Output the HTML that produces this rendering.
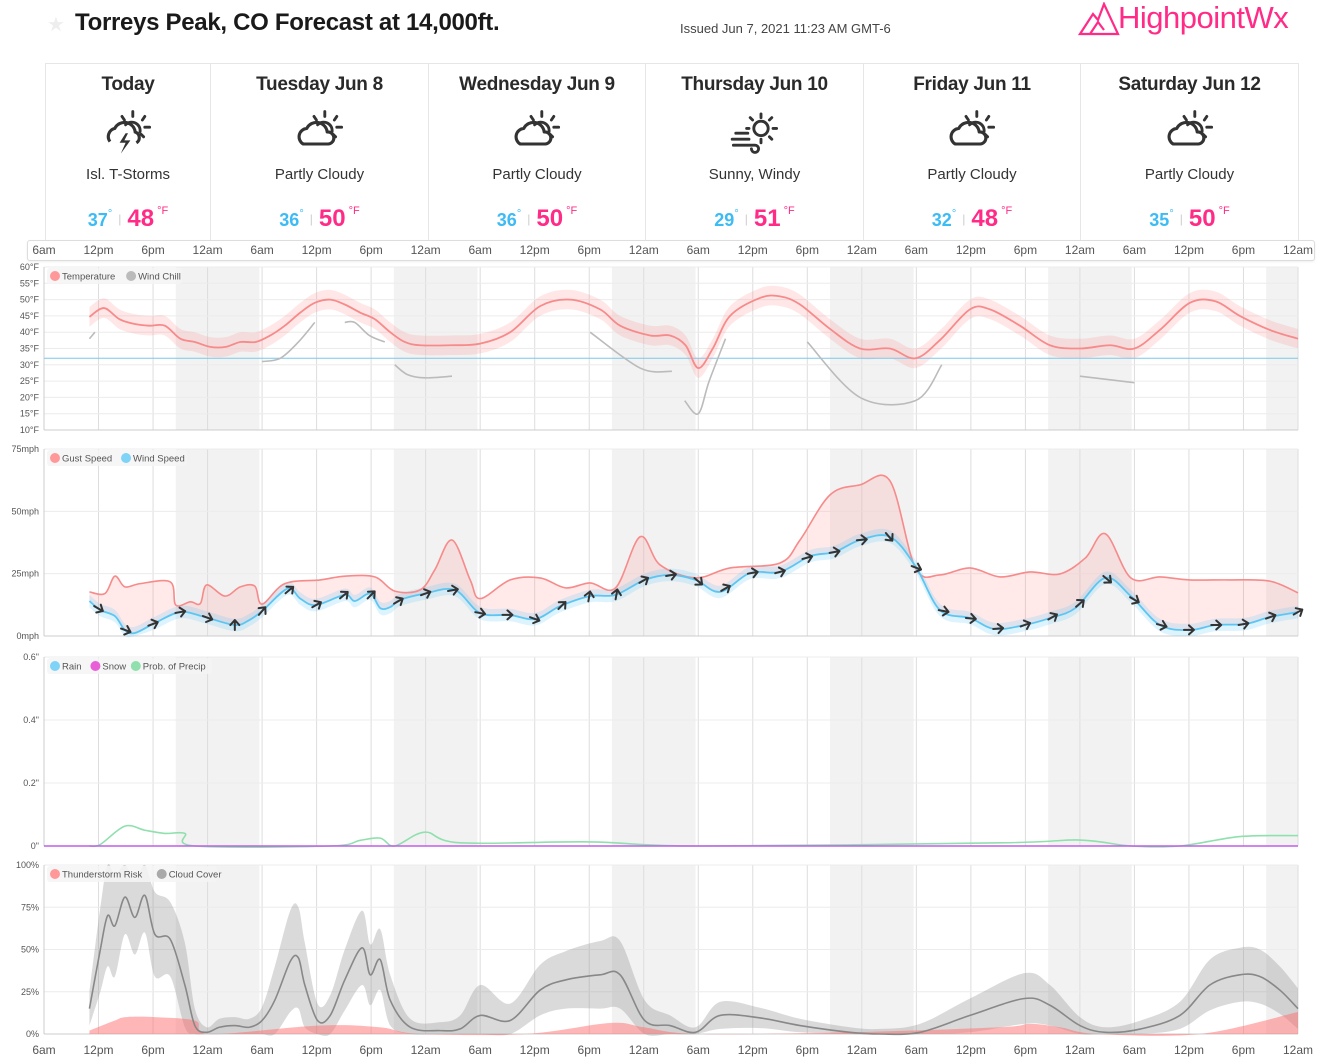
<!DOCTYPE html>
<html><head><meta charset="utf-8">
<style>
body{margin:0;width:1323px;height:1060px;background:#fff;font-family:"Liberation Sans",sans-serif;overflow:hidden;position:relative;color:#222}
.abs{position:absolute}
.card{position:absolute;top:63px;height:178px;border:1px solid #e6e6e6;border-right:none;box-sizing:border-box;text-align:center}
.card h3{margin:10px 0 0;font-size:19px;line-height:22px;font-weight:bold;color:#2a2a2a;letter-spacing:-0.3px}
.card .ic{margin:12px auto 0;display:block}
.card .cond{font-size:15px;line-height:18px;color:#333;margin-top:10px}
.card .tmp{margin-top:14px;font-size:0;line-height:26px}
.lo{font-size:18px;font-weight:bold;color:#3dbbf5}
.hi{font-size:24px;font-weight:bold;color:#ff2b87}
.sep{font-size:12px;color:#ccc;margin:0 6px;vertical-align:3px}
.deg{font-size:11px;color:#3dbbf5;vertical-align:9px}
.f{font-size:11px;color:#ff2b87;vertical-align:12px;margin-left:3px}
</style></head><body>
<div class="abs" style="left:47px;top:12px;font-size:20px;color:#eee">★</div>
<div class="abs" style="left:75px;top:9px;font-size:24px;font-weight:bold;color:#1a1a1a;letter-spacing:-0.3px">Torreys Peak, CO Forecast at 14,000ft.</div>
<div class="abs" style="left:680px;top:21px;font-size:13px;color:#444">Issued Jun 7, 2021 11:23 AM GMT-6</div>
<div class="abs" style="left:1078px;top:2px;width:220px;height:40px">
<svg width="44" height="38" style="position:absolute;left:0;top:0"><path d="M2 32 L15 12 L20 18 L26 2 L40 32 Z M12 32 L20 20 L26 28" fill="none" stroke="#ff2b87" stroke-width="2.2"/></svg>
<span style="position:absolute;left:40px;top:-2px;font-size:31px;color:#ff2b87;letter-spacing:-0.5px">HighpointWx</span></div>

<div id="cards"></div>
<div class="abs" style="left:27px;top:240px;width:1286px;height:19px;border:1px solid #ddd;border-radius:3px;background:#fff;box-shadow:0 1px 2px #eee"></div>
<svg id="chart" class="abs" style="left:0;top:0" width="1323" height="1060"></svg>

<script>
// ---- day cards data ----
const dayNames=["Today","Tuesday Jun 8","Wednesday Jun 9","Thursday Jun 10","Friday Jun 11","Saturday Jun 12"];
const dayConds=["Isl. T-Storms","Partly Cloudy","Partly Cloudy","Sunny, Windy","Partly Cloudy","Partly Cloudy"];
const dayLows=[37,36,36,29,32,35];
const dayHighs=[48,50,50,51,48,50];
const dayIcons=["storm","pc","pc","wind","pc","pc"];

// ---- chart data ----
const tickLabels=["6am","12pm","6pm","12am"];
const tempHours=[5,6.6,8.3,10,11.6,13.3,15,16.6,18.3,20,21.6,23.3,24.9,26.5,28.2,29.8,31.5,33.1,34.8,36.4,38.1,39.7,41.4,44.7,48,51.3,54.6,57.9,61.2,63.4,66.7,68.9,70.6,72,73.6,75.5,78.8,81,83.2,86.5,89.8,93.1,95.9,98.6,101.9,104.1,107.4,110.7,114,117.3,120,122.8,126.1,128.9,131.6,134.9,138];
const tempVals=[44.7,47.4,44,42.5,42,42,38,37,35.5,35.5,37,37,39,42,46,49,50,48.5,46,44,40,37,36,36,36.5,40,48,50,47,42,39,39,36,29,35,45,50.5,51,48.5,41,35,35,32,37.6,47,47,42,36,35,36,35,40.7,49,49.5,45,40.7,38];
const tempSpread=3;
const chillHours=[5,5.6,null,24,26,28,29.8,null,33.1,34.2,35.8,37.5,null,38.6,40,41.9,44.9,null,60.1,65.6,69.1,null,70.5,72,73.2,75,null,84,89.8,95.9,98.8,null,114,120];
const chillVals=[38,40,null,31,32,37,43,null,43,43,39,37,null,30,27,26,26.5,null,40,29,28,null,19,15,25,38,null,37,20,19,30,null,26.5,24.5];
const windHours=[5,6.2,7.8,8.9,10,12.2,15,17.7,21,22.6,24,26.8,28.2,29.9,33.1,34.2,35.9,37,38.1,39.2,41.9,45.2,48,51.3,54.1,56.8,60.1,62.9,66.1,68.9,71.7,74.4,77.7,81,84.3,87,89.8,93.1,95.9,98.6,101.9,104.6,107.9,110.7,113.5,116.8,119.6,122.8,126.1,128.9,132.2,134.9,138];
const windVals=[14,10.4,8,2.4,1.2,5.2,9.6,7.6,4.4,6.4,10,19,15,12.4,16.5,14,17,11.2,11.6,14.5,17,18.5,9.2,8.4,6.8,12,16,16.5,22.5,24.5,22.5,17.7,25.3,25.7,32,33.7,38.5,39.8,28,10.4,7.2,2.8,4.4,7.2,11.2,23.3,16,4.4,2.4,4.4,4.8,7.6,9.6];
const windDirHours=[6,9,12,15,18,21,24,27,30,33,36,39,42,45,48,51,54,57,60,63,66,69,72,75,78,81,84,87,90,93,96,99,102,105,108,111,114,117,120,123,126,129,132,135,138];
const windDirDeg=[30,20,-20,-10,20,-90,-50,-40,-30,-40,-45,-30,-20,-10,10,0,20,-45,-80,-80,-30,-10,40,-30,-10,-15,-15,-10,-5,50,20,10,5,-5,-20,-30,-40,40,30,15,0,0,-10,-20,-30];
const gustHours=[5,6.7,7.8,8.9,10.6,13.9,14.5,16.1,17.2,17.9,19.9,21.6,23.2,24,26.5,30.4,33.1,36.4,38.6,41.4,43,44.9,46.9,48,51.3,54.6,57.4,60.1,62.9,65.6,67.8,71.7,75.5,81,83.2,86.5,89.8,93.1,95.9,98.6,101.9,105.2,108.5,111.8,114.6,116.8,119.6,122.8,126.1,130.5,134.9,138];
const gustVals=[17.7,17,24,19.7,21,21.7,12.4,13.7,13,20.5,16,19.7,20,12.8,21,22.5,24,23.7,18,18.5,26.5,38.5,22.5,15,22.5,23.3,19.3,21.3,19.3,39.8,28.5,23.3,27.3,29.3,38.5,56.6,60.6,62.2,27.3,24.5,27.3,23.7,25.7,24.9,31.3,41,23.3,23.7,22.5,22.5,22,17.3];
const precipHours=[5,6.2,8.9,11.1,13.3,15.5,16.6,31.5,34.8,37,38.6,41.9,45.8,60.1,72,105.2,114,119.6,125,131.6,138];
const precipProb=[0,0.005,0.063,0.05,0.04,0.04,0,0,0.018,0.025,0,0.044,0.01,0.013,0,0.01,0.019,0,0,0.03,0.033];
const rainVals=[0,0];
const cloudHours=[5,6.2,7,7.8,8.9,10,11.1,12.2,13.9,15.5,16.6,17.9,19.3,21,22.6,24,25.4,27.1,28,28.7,30.1,31.5,33.1,35,35.9,37,38.1,40.3,43.6,45.8,48,51.3,54.6,57.4,61.2,63.4,66.1,68.9,71.7,74.4,78.8,83.2,88.7,92,96.4,101.9,107.9,110.7,114,116.8,120.7,125,128.3,131.6,133.8,136,138];
const cloudVals=[15,50,70,64,81,69,82,59,56,29,5,1,4,5,4,8,20,43,45,29,8,11,32,51,35,44,20,4,2,3,11,8,26,32,35,35,8,5,1,11,9.5,5,1,0,1,11,21,17,5,1,3,11,29,35,34,26,15];
const cloudSpread=[10,25,30,30,22,22,22,25,22,25,10,3,5,5,5,8,20,30,30,25,10,12,18,22,18,18,15,5,5,8,18,10,15,17,20,20,12,6,3,8,6,4,3,3,5,10,15,12,5,3,5,8,15,16,16,14,12];
const tstormHours=[5,7.8,9,12.2,16.6,17.2,19.4,30.4,36.9,41.4,53,62.3,66,72,88.7,105.2,108.5,111.8,116,127.2,138];
const tstormVals=[2,8,10,10,8,2,0,5,4,0,0,6.5,4,0,1,4,6,4,0,0,13];

const svg=document.getElementById('chart');
const NS='http://www.w3.org/2000/svg';
const X0=44,X1=1298,TH=138;
const xs=h=>X0+h*(X1-X0)/TH;
function mk(tag,attrs,parent){const e=document.createElementNS(NS,tag);for(const k in attrs)e.setAttribute(k,attrs[k]);(parent||svg).appendChild(e);return e;}
function smooth(pts){if(!pts.length)return '';let d='M'+pts[0][0]+' '+pts[0][1];for(let i=0;i<pts.length-1;i++){const p0=pts[i-1]||pts[i],p1=pts[i],p2=pts[i+1],p3=pts[i+2]||p2;const c1x=p1[0]+(p2[0]-p0[0])/6,c1y=p1[1]+(p2[1]-p0[1])/6,c2x=p2[0]-(p3[0]-p1[0])/6,c2y=p2[1]-(p3[1]-p1[1])/6;d+=` C${c1x} ${c1y} ${c2x} ${c2y} ${p2[0]} ${p2[1]}`;}return d;}
function areaPath(top,bot){const b=bot.slice().reverse();const sb=smooth(b);return smooth(top)+' L'+b[0][0]+' '+b[0][1]+sb.slice(sb.indexOf(' C'))+' Z';}
function interp(hs,vs,h){for(let i=0;i<hs.length-1;i++){if(h>=hs[i]&&h<=hs[i+1]){const t=(h-hs[i])/(hs[i+1]-hs[i]);return vs[i]+t*(vs[i+1]-vs[i]);}}return vs[vs.length-1];}

// cards
const cards=document.getElementById('cards');
const bounds=[45,210,428,645,863,1080,1298];
function icon(t){
 const sun='<g stroke="#333" stroke-width="2.4" stroke-linecap="round" fill="none"><path d="M26 3v4M36 7l-2 3M40 16h-4M35 24l-2-2M17 7l2 3"/><path d="M20 14a7 7 0 0 1 12 6"/></g>';
 const cloud='<path d="M8 30a7 7 0 0 1 3-13a9 9 0 0 1 17 3a5 5 0 0 1 1 10z" fill="none" stroke="#333" stroke-width="2.6" stroke-linejoin="round"/>';
 if(t==='pc')return sun+cloud;
 if(t==='storm')return sun+'<path d="M7 28a7 7 0 0 1 4-11a9 9 0 0 1 17 3a5 5 0 0 1 1 9" fill="none" stroke="#333" stroke-width="2.6"/><path d="M20 21l-5 8h5l-4 9 8-11h-5l3-6z" fill="#333"/>';
 return '<g stroke="#333" stroke-width="2.4" stroke-linecap="round" fill="none"><circle cx="27" cy="17" r="6"/><path d="M27 5v3M36 8l-2 2M40 17h-3M36 26l-2-2M27 29v-3M18 8l2 2M17 17h-2"/><path d="M3 26h14M4 31h18a3 3 0 1 1-3 3M6 21h10"/></g>';
}
dayNames.forEach((n,i)=>{
 const c=document.createElement('div');c.className='card';
 
 
 c.style.left=bounds[i]+'px';c.style.width=(bounds[i+1]-bounds[i]+(i==5?1:0))+'px';
 if(i==5)c.style.borderRight='1px solid #e6e6e6';
 c.innerHTML=`<h3>${n}</h3><svg class="ic" width="54" height="48" viewBox="0 0 44 40">${icon(dayIcons[i])}</svg><div class="cond">${dayConds[i]}</div><div class="tmp"><span class="lo">${dayLows[i]}</span><span class="deg">°</span><span class="sep">|</span><span class="hi">${dayHighs[i]}</span><span class="f">°F</span></div>`;
 cards.appendChild(c);
});

// top time axis
for(let k=0;k<=23;k++){const t=mk('text',{x:xs(k*6),y:254,'font-size':12,fill:'#555','text-anchor':'middle','font-family':'Liberation Sans'});t.textContent=tickLabels[k%4];

}

const panels=[
 {name:'temperature',top:267,bot:430,min:10,max:60,step:5,fmt:v=>v+'°F'},
 {name:'wind',top:449,bot:636,min:0,max:75,step:25,fmt:v=>v+'mph'},
 {name:'precip',top:657,bot:846,min:0,max:0.6,step:0.2,fmt:v=>(+v.toFixed(1))+'"'},
 {name:'cloud',top:865,bot:1034,min:0,max:100,step:25,fmt:v=>v+'%'}
];
panels.forEach(p=>{
 p.y=v=>p.bot-(v-p.min)*(p.bot-p.top)/(p.max-p.min);
 const g=mk('g',{});
 
 
 p.g=g;
 for(let d=0;d<6;d++){const a=xs(14.5+24*d),b=Math.min(xs(23.7+24*d),X1);mk('rect',{x:a,y:p.top,width:b-a,height:p.bot-p.top,fill:'#f2f2f2'},g);}
 for(let k=0;k<=23;k++)mk('line',{x1:xs(k*6),x2:xs(k*6),y1:p.top,y2:p.bot,stroke:'#ddd','stroke-width':1},g);
 const n=Math.round((p.max-p.min)/p.step);
 for(let i=0;i<=n;i++){const v=p.min+i*p.step,y=p.y(v);mk('line',{x1:X0,x2:X1,y1:y,y2:y,stroke:i==0?'#ccc':'#ececec'},g);
  const t=mk('text',{x:39,y:y+3,'font-size':9,fill:'#555','text-anchor':'end','font-family':'Liberation Sans'},g);t.textContent=p.fmt(v);
  
  }
 mk('line',{x1:X0,x2:X0,y1:p.top,y2:p.bot,stroke:'#ccc'},g);
});
for(let k=0;k<=23;k++){const t=mk('text',{x:xs(k*6),y:1054,'font-size':12,fill:'#555','text-anchor':'middle','font-family':'Liberation Sans'});t.textContent=tickLabels[k%4];

}

function pts(hs,vs,yf){return hs.map((h,i)=>[xs(h),yf(vs[i])]);}
function segs(hs,vs){const out=[];let cur=[];hs.forEach((h,i)=>{if(h===null){if(cur.length)out.push(cur);cur=[];}else cur.push([h,vs[i]]);});if(cur.length)out.push(cur);return out;}

// temperature
const T=panels[0];
const tTop=tempHours.map((h,i)=>[xs(h),T.y(tempVals[i]+tempSpread)]),tBot=tempHours.map((h,i)=>[xs(h),T.y(tempVals[i]-tempSpread)]);
let e=mk('path',{d:areaPath(tTop,tBot),fill:'rgba(255,120,120,0.18)'},T.g);


e=mk('line',{x1:X0,x2:X1,y1:T.y(32),y2:T.y(32),stroke:'#7cc7ea','stroke-width':1},T.g);


segs(chillHours,chillVals).forEach(s=>{const el=mk('path',{d:smooth(s.map(q=>[xs(q[0]),T.y(q[1])])),fill:'none',stroke:'#bbb','stroke-width':1.6},T.g);

});
e=mk('path',{d:smooth(pts(tempHours,tempVals,T.y)),fill:'none',stroke:'#f78a8a','stroke-width':1.8},T.g);



// wind
const W=panels[1];
const gP=pts(gustHours,gustVals,W.y),wP=pts(windHours,windVals,W.y);
e=mk('path',{d:areaPath(gP,wP),fill:'rgba(255,120,120,0.16)'},W.g);


const wT=windHours.map((h,i)=>[xs(h),W.y(windVals[i]+2.5)]),wB=windHours.map((h,i)=>[xs(h),W.y(Math.max(0,windVals[i]-2.5))]);
e=mk('path',{d:areaPath(wT,wB),fill:'rgba(100,200,250,0.22)'},W.g);


e=mk('path',{d:smooth(gP),fill:'none',stroke:'#f78a8a','stroke-width':1.6},W.g);


e=mk('path',{d:smooth(wP),fill:'none',stroke:'#5cc6f2','stroke-width':1.8},W.g);


windDirHours.forEach((h,i)=>{const v=interp(windHours,windVals,h);const a=mk('path',{d:'M-5 0H5M0-4.5L5 0L0 4.5',transform:`translate(${xs(h)},${W.y(v)}) rotate(${windDirDeg[i]})`,fill:'none',stroke:'#333','stroke-width':2,'stroke-linecap':'round','stroke-linejoin':'round'},W.g);

});

// precip
const P=panels[2];
e=mk('path',{d:smooth(pts(precipHours,precipProb,P.y)),fill:'none',stroke:'#8fe0ad','stroke-width':1.6},P.g);


e=mk('line',{x1:X0,x2:X1,y1:P.y(rainVals[0]),y2:P.y(rainVals[1]),stroke:'#c25ee8','stroke-width':1.5},P.g);



// cloud
const C=panels[3];
const cT=cloudHours.map((h,i)=>[xs(h),C.y(Math.min(100,cloudVals[i]+cloudSpread[i]))]),cB=cloudHours.map((h,i)=>[xs(h),C.y(Math.max(0,cloudVals[i]-cloudSpread[i]))]);
e=mk('path',{d:areaPath(cT,cB),fill:'rgba(150,150,150,0.35)'},C.g);


const tsP=pts(tstormHours,tstormVals,C.y);
e=mk('path',{d:areaPath(tsP,tstormHours.map(h=>[xs(h),C.y(0)])),fill:'rgba(255,110,110,0.5)'},C.g);


e=mk('path',{d:smooth(pts(cloudHours,cloudVals,C.y)),fill:'none',stroke:'#888','stroke-width':1.6},C.g);



// legends
function legend(p,items,w){const g=mk('g',{},p.g);


mk('rect',{x:47,y:p.top+1,width:w,height:16,rx:3,fill:'rgba(245,245,245,0.85)'},g);let x=50;items.forEach(it=>{mk('circle',{cx:x+5,cy:p.top+9,r:5,fill:it[1]},g);const t=mk('text',{x:x+12,y:p.top+12.5,'font-size':9.5,fill:'#555','font-family':'Liberation Sans'},g);t.textContent=it[0];x+=12+it[0].length*5.1+8;});}
legend(T,[["Temperature","#f99"],["Wind Chill","#bbb"]],135);
legend(W,[["Gust Speed","#f99"],["Wind Speed","#7fd3f7"]],140);
legend(P,[["Rain","#7fd3f7"],["Snow","#e85fd8"],["Prob. of Precip","#8fe0ad"]],165);
legend(C,[["Thunderstorm Risk","#f99"],["Cloud Cover","#aaa"]],170);
</script>
</body></html>
